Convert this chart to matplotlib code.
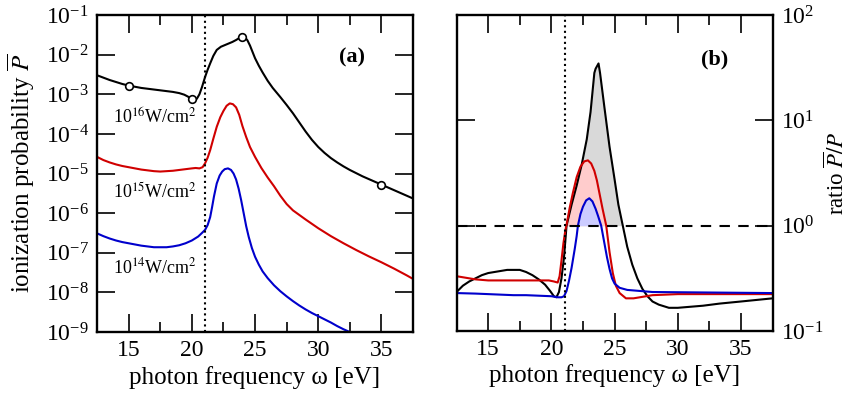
import numpy as np
import matplotlib
matplotlib.use('Agg')
import matplotlib.pyplot as plt
from matplotlib.ticker import LogLocator, NullLocator, MultipleLocator, LogFormatterMathtext

plt.rcParams['font.family'] = ['Liberation Serif', 'DejaVu Serif']
plt.rcParams['mathtext.fontset'] = 'stix'

# --- panel (a): ionization probability, stored as log10 values ---
w16 = [12.5, 13.0, 13.5, 14.0, 14.5, 15.0, 15.5, 16.0, 16.5, 17.0, 17.5, 18.0, 18.5, 19.0, 19.4,
       19.7, 20.0, 20.2, 20.4, 20.6, 20.8, 21.05, 21.25, 21.45, 21.7, 21.97, 22.3, 22.6, 22.9, 23.2,
       23.5, 23.8, 24.0, 24.2, 24.4, 24.6, 24.8, 25.0, 25.3, 25.6, 26.0, 26.4, 27.0, 27.5, 28.0,
       28.5, 29.0, 29.5, 30.0, 30.5, 31.0, 31.5, 32.0, 32.5, 33.0, 33.5, 34.0, 34.5, 35.0, 35.5,
       36.0, 36.5, 37.0, 37.5]
p16 = [-2.52, -2.58, -2.64, -2.69, -2.74, -2.78, -2.81, -2.84, -2.86, -2.88, -2.90, -2.92, -2.94, -2.97, -3.01,
       -3.06, -3.13, -3.15, -3.11, -3.00, -2.82, -2.56, -2.38, -2.22, -2.03, -1.88, -1.80, -1.76, -1.72, -1.68,
       -1.63, -1.57, -1.55, -1.56, -1.64, -1.77, -1.93, -2.09, -2.28, -2.45, -2.66, -2.84, -3.07, -3.27, -3.48,
       -3.71, -3.94, -4.15, -4.33, -4.48, -4.61, -4.72, -4.82, -4.91, -4.99, -5.07, -5.14, -5.21, -5.28, -5.35,
       -5.42, -5.49, -5.56, -5.63]
circ_w = [15.0, 20.0, 24.0, 35.0]
circ_p = [-2.78, -3.13, -1.55, -5.28]

w15 = [12.5, 13.0, 13.5, 14.0, 14.5, 15.0, 15.5, 16.0, 16.5, 17.0, 17.5, 18.0, 18.5, 19.0, 19.5,
       20.0, 20.3, 20.6, 20.85, 21.05, 21.25, 21.45, 21.7, 21.97, 22.25, 22.5, 22.75, 23.0, 23.25, 23.5,
       23.75, 24.0, 24.3, 24.6, 25.0, 25.5, 26.0, 26.5, 27.0, 27.5, 28.0, 29.0, 30.0, 31.0, 32.0,
       33.0, 34.0, 35.0, 36.0, 37.0, 37.5]
p15 = [-4.58, -4.66, -4.72, -4.77, -4.81, -4.84, -4.87, -4.90, -4.92, -4.94, -4.95, -4.94, -4.93, -4.91, -4.89,
       -4.87, -4.86, -4.87, -4.84, -4.74, -4.60, -4.41, -4.12, -3.82, -3.58, -3.42, -3.29, -3.23, -3.25, -3.33,
       -3.52, -3.80, -4.08, -4.33, -4.58, -4.86, -5.10, -5.32, -5.56, -5.77, -5.93, -6.16, -6.38, -6.58, -6.76,
       -6.93, -7.09, -7.24, -7.40, -7.57, -7.66]

w14 = [12.5, 13.0, 13.5, 14.0, 14.5, 15.0, 15.5, 16.0, 16.5, 17.0, 17.5, 18.0, 18.5, 19.0, 19.5,
       20.0, 20.5, 20.8, 21.05, 21.25, 21.45, 21.6, 21.75, 21.97, 22.2, 22.4, 22.6, 22.86, 23.1, 23.3,
       23.5, 23.7, 23.9, 24.1, 24.3, 24.5, 24.75, 25.0, 25.3, 25.6, 26.0, 26.5, 27.0, 27.5, 28.0,
       28.5, 29.0, 29.5, 30.0, 30.5, 31.0, 31.5, 32.0, 32.5]
p14 = [-6.51, -6.58, -6.64, -6.69, -6.73, -6.76, -6.79, -6.82, -6.84, -6.86, -6.86, -6.86, -6.84, -6.81, -6.76,
       -6.69, -6.59, -6.50, -6.42, -6.30, -6.10, -5.85, -5.58, -5.25, -5.05, -4.95, -4.89, -4.87, -4.91, -5.00,
       -5.15, -5.38, -5.67, -6.00, -6.33, -6.60, -6.88, -7.10, -7.30, -7.47, -7.64, -7.82, -7.97, -8.10, -8.22,
       -8.33, -8.43, -8.52, -8.60, -8.68, -8.76, -8.85, -8.93, -9.00]

# --- panel (b): ratio Pbar/P (log10) ---
rw16 = [12.5, 13.0, 13.5, 14.0, 14.5, 15.0, 15.5, 16.0, 16.5, 17.0, 17.5, 18.0, 18.5, 19.0, 19.5,
        19.9, 20.2, 20.4, 20.6, 20.8, 21.0, 21.2, 21.6, 22.0, 22.4, 22.8, 23.1, 23.4, 23.5, 23.73,
        23.85, 24.2, 24.6, 25.0, 25.3, 25.65, 26.0, 26.4, 26.8, 27.2, 27.6, 28.0, 28.5, 29.3, 30.0,
        31.0, 32.0, 33.3, 35.0, 37.5]
r16 = [-0.63, -0.57, -0.53, -0.50, -0.47, -0.45, -0.44, -0.43, -0.42, -0.42, -0.42, -0.44, -0.47, -0.51, -0.56,
       -0.62, -0.67, -0.68, -0.63, -0.50, -0.30, 0.00, 0.20, 0.38, 0.58, 0.82, 1.08, 1.45, 1.49, 1.54,
       1.45, 1.12, 0.75, 0.44, 0.20, 0.00, -0.20, -0.37, -0.50, -0.60, -0.67, -0.72, -0.75, -0.78, -0.78,
       -0.77, -0.76, -0.74, -0.72, -0.69]

rw15 = [12.5, 13.0, 13.5, 14.0, 15.0, 16.0, 17.0, 18.0, 19.0, 19.8, 20.2, 20.5, 20.65, 20.8, 20.95,
        21.1, 21.25, 21.45, 21.7, 22.0, 22.3, 22.6, 22.89, 23.15, 23.4, 23.6, 23.8, 24.05, 24.34, 24.6,
        24.86, 25.1, 25.4, 25.9, 26.5, 27.0, 28.0, 30.0, 37.5]
r15 = [-0.48, -0.49, -0.50, -0.51, -0.52, -0.52, -0.52, -0.52, -0.52, -0.52, -0.53, -0.54, -0.48, -0.33, -0.17,
       -0.05, 0.04, 0.17, 0.31, 0.46, 0.56, 0.61, 0.62, 0.59, 0.52, 0.43, 0.31, 0.16, 0.00, -0.25,
       -0.45, -0.57, -0.64, -0.69, -0.69, -0.68, -0.66, -0.65, -0.65]

rw14 = [12.5, 14.0, 15.0, 16.0, 17.0, 18.0, 19.0, 20.0, 20.5, 20.8, 21.0, 21.2, 21.4, 21.6, 21.85,
        22.0, 22.1, 22.3, 22.5, 22.75, 23.0, 23.25, 23.5, 23.7, 23.94, 24.2, 24.4, 24.6, 24.8, 25.0,
        25.4, 26.0, 27.0, 28.0, 37.5]
r14 = [-0.64, -0.645, -0.65, -0.655, -0.66, -0.66, -0.665, -0.67, -0.68, -0.68, -0.67, -0.62, -0.52, -0.40, -0.22,
       -0.10, 0.00, 0.11, 0.18, 0.24, 0.26, 0.23, 0.16, 0.09, 0.00, -0.17, -0.30, -0.41, -0.50, -0.55,
       -0.59, -0.61, -0.62, -0.63, -0.64]

threshold = 21.05
intensity_labels = [r'10$^{16}$W/cm$^{2}$', r'10$^{15}$W/cm$^{2}$', r'10$^{14}$W/cm$^{2}$']
label_pos = [(17.1, -3.6), (17.1, -5.47), (17.1, -7.36)]

RED = '#d00000'
BLUE = '#0000cc'

fig = plt.figure(figsize=(8.55, 4.01), dpi=100)
ax1 = fig.add_axes([0.1135, 0.172, 0.3696, 0.7905])
ax2 = fig.add_axes([0.534, 0.1746, 0.3696, 0.788])

def style(ax):
    for s in ax.spines.values():
        s.set_linewidth(1.7)
    ax.set_xlim(12.5, 37.5)
    ax.xaxis.set_major_locator(MultipleLocator(5))
    ax.xaxis.set_minor_locator(MultipleLocator(2.5))
    ax.tick_params(which='both', direction='in', top=True, right=True, labelsize=17, width=1.2)
    ax.tick_params(which='major', length=13, pad=6)
    ax.tick_params(which='minor', length=7)
    ax.set_xlabel('photon frequency ω [eV]', fontsize=18, labelpad=3)

# panel (a)
ax1.set_yscale('log')
ax1.set_ylim(1e-9, 1e-1)
ax1.yaxis.set_major_locator(LogLocator(base=10, numticks=20))
ax1.yaxis.set_major_formatter(LogFormatterMathtext())
style(ax1)
ax1.yaxis.set_minor_locator(NullLocator())
ax1.plot(w16, 10 ** np.array(p16), color='black', lw=1.5)
ax1.plot(w15, 10 ** np.array(p15), color=RED, lw=1.5)
ax1.plot(w14, 10 ** np.array(p14), color=BLUE, lw=1.5)
ax1.plot(circ_w, 10 ** np.array(circ_p), 'o', mfc='white', mec='black', mew=1.2, ms=5.5)
ax1.axvline(threshold, color='black', ls=':', lw=1.5)
for txt, (x, y) in zip(intensity_labels, label_pos):
    ax1.text(x, 10 ** y, txt, ha='center', va='center', fontsize=13)
ax1.text(0.807, 0.867, '(a)', transform=ax1.transAxes, ha='center', va='center',
         fontsize=16, fontweight='bold')
ax1.set_ylabel(r'ionization probability $\overline{P}$', fontsize=18)
ax1.yaxis.set_label_coords(-0.19, 0.5)

# panel (b)
ax2.set_yscale('log')
ax2.set_ylim(1e-1, 1e2)
ax2.yaxis.set_major_locator(LogLocator(base=10, numticks=20))
ax2.yaxis.set_major_formatter(LogFormatterMathtext())
style(ax2)
ax2.yaxis.set_minor_locator(NullLocator())
ax2.tick_params(labelleft=False, labelright=True)
ax2.yaxis.set_label_position('right')

for w, r, fc in [(rw16, r16, '#d9d9d9'), (rw15, r15, '#ffcccc'), (rw14, r14, '#ccccff')]:
    w = np.array(w)
    v = 10 ** np.array(r)
    ax2.fill_between(w, 1, v, where=v >= 1, interpolate=True, color=fc, lw=0)
ax2.plot(rw16, 10 ** np.array(r16), color='black', lw=1.5)
ax2.plot(rw15, 10 ** np.array(r15), color=RED, lw=1.5)
ax2.plot(rw14, 10 ** np.array(r14), color=BLUE, lw=1.5)
ax2.axhline(1, color='black', ls=(0, (5, 4)), lw=1.5)
ax2.axvline(threshold, color='black', ls=':', lw=1.5)
ax2.text(0.817, 0.858, '(b)', transform=ax2.transAxes, ha='center', va='center',
         fontsize=16, fontweight='bold')
ax2.set_ylabel(r'ratio $\overline{P}/P$', fontsize=16.5)
ax2.yaxis.set_label_coords(1.165, 0.5)

fig.savefig('out.png', dpi=100)
